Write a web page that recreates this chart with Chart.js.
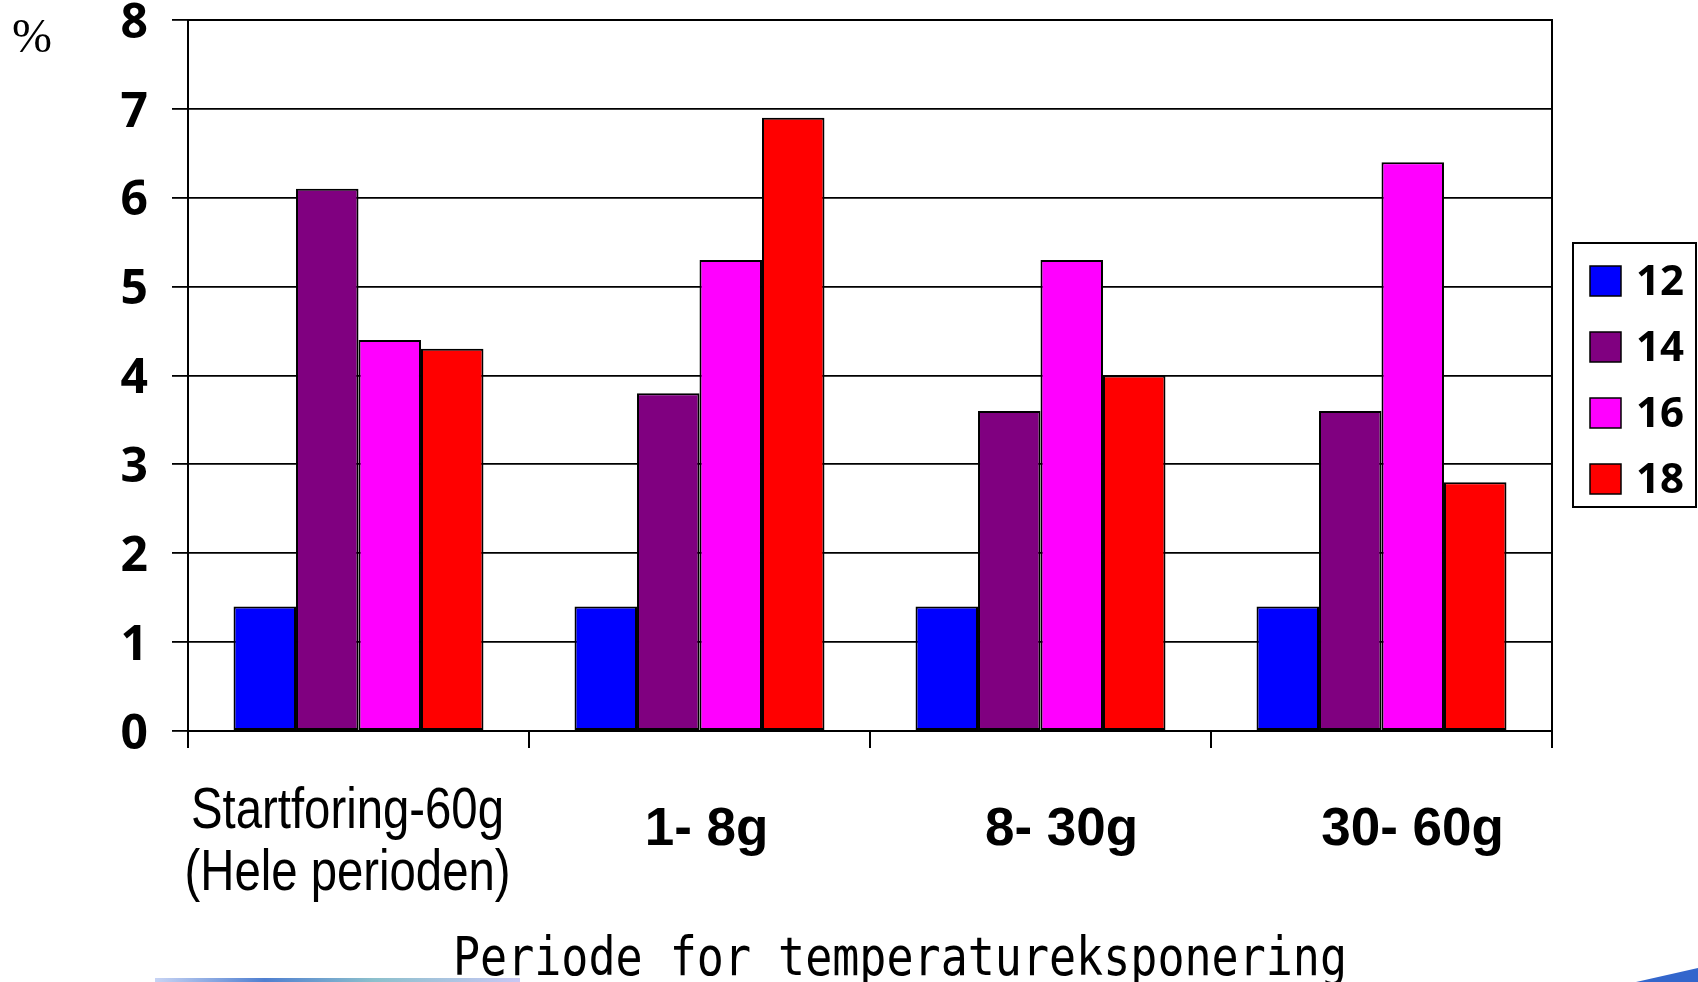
<!DOCTYPE html>
<html>
<head>
<meta charset="utf-8">
<script src="https://cdn.jsdelivr.net/npm/chart.js@4.4.1/dist/chart.umd.min.js"></script>
<style>
  html, body { margin: 0; padding: 0; background: #ffffff; }
  #wrap { width: 1698px; height: 982px; position: relative; }
</style>
</head>
<body>
<div id="wrap"><canvas id="c" width="1698" height="982"></canvas></div>
<script>
// ---- data ----
const categories = [["Startforing-60g", "(Hele perioden)"], "1- 8g", "8- 30g", "30- 60g"];
const seriesNames = ["12", "14", "16", "18"];
const series12 = [1.4, 1.4, 1.4, 1.4];
const series14 = [6.1, 3.8, 3.6, 3.6];
const series16 = [4.4, 5.3, 5.3, 6.4];
const series18 = [4.3, 6.9, 4.0, 2.8];
const yTicks = [0, 1, 2, 3, 4, 5, 6, 7, 8];
const xTitle = "Periode for temperatureksponering";
const yUnit = "%";
const colors = ["#0000FF", "#800080", "#FF00FF", "#FF0000"];

const seriesValues = [series12, series14, series16, series18];

const PLOT_LEFT = 188, PLOT_RIGHT = 1552, PLOT_TOP = 20, PLOT_BOTTOM = 731;
const W = 1698, H = 982;
const labelShift = [-11, 7, 21, 31];

const decorPlugin = {
  id: 'decor',
  afterDraw(chart) {
    const ctx = chart.ctx;
    const a = chart.chartArea;
    const xs = chart.scales.x;
    ctx.save();
    // plot frame (top & right)
    ctx.strokeStyle = '#000';
    ctx.lineWidth = 2;
    ctx.beginPath();
    ctx.moveTo(a.left, a.top);
    ctx.lineTo(a.right, a.top);
    ctx.lineTo(a.right, a.bottom);
    ctx.stroke();

    // % unit
    ctx.fillStyle = '#000';
    ctx.font = '48px "Liberation Serif", serif';
    ctx.textAlign = 'left';
    ctx.textBaseline = 'alphabetic';
    ctx.fillText(yUnit, 12, 52);

    // category labels
    ctx.textAlign = 'center';
    categories.forEach((lab, i) => {
      const cx = xs.getPixelForValue(i) + labelShift[i];
      if (Array.isArray(lab)) {
        ctx.font = '400 57px "Liberation Sans", Arial, sans-serif';
        lab.forEach((line, j) => {
          ctx.save();
          ctx.translate(cx, 828 + j * 62);
          ctx.scale(0.83, 1);
          ctx.fillText(line, 0, 0);
          ctx.restore();
        });
      } else {
        ctx.font = '700 53px "Liberation Sans", Arial, sans-serif';
        ctx.fillText(lab, cx, 845);
      }
    });

    // x-axis title
    ctx.save();
    ctx.font = '500 45px "DejaVu Sans Mono", "Liberation Mono", monospace';
    ctx.textAlign = 'center';
    ctx.translate(900, 975);
    ctx.scale(1, 1.2);
    ctx.fillText(xTitle, 0, 0);
    ctx.restore();

    // legend
    const lx0 = 1573, ly0 = 243, lx1 = 1697, ly1 = 507;
    ctx.lineWidth = 2;
    ctx.strokeStyle = '#000';
    ctx.strokeRect(lx0, ly0, lx1 - lx0 - 1, ly1 - ly0);
    ctx.font = '700 42px "Open Sans", "Noto Sans", sans-serif';
    ctx.textAlign = 'left';
    ctx.textBaseline = 'middle';
    chart.data.datasets.forEach((ds, i) => {
      const cy = 281 + i * 66;
      ctx.fillStyle = ds.backgroundColor;
      ctx.fillRect(1590, cy - 15, 31, 30);
      ctx.lineWidth = 1.5;
      ctx.strokeRect(1590, cy - 15, 31, 30);
      ctx.fillStyle = '#000';
      ctx.fillText(ds.label, 1636, cy + 2);
    });

    // slide decorations at bottom
    const g = ctx.createLinearGradient(155, 0, 520, 0);
    g.addColorStop(0, '#c8d4f4');
    g.addColorStop(0.3, '#4f7fd0');
    g.addColorStop(0.6, '#8cc0cc');
    g.addColorStop(1, '#c8c8f4');
    ctx.fillStyle = g;
    ctx.fillRect(155, 978, 365, 4);
    ctx.fillStyle = '#3366cc';
    ctx.beginPath();
    ctx.moveTo(1636, 982);
    ctx.lineTo(1698, 968);
    ctx.lineTo(1698, 982);
    ctx.closePath();
    ctx.fill();
    ctx.restore();
  }
};

new Chart(document.getElementById('c'), {
  type: 'bar',
  data: {
    labels: categories.map((c, i) => i),
    datasets: seriesNames.map((n, i) => ({
      label: n,
      data: seriesValues[i],
      backgroundColor: colors[i],
      borderColor: '#000',
      borderWidth: 2,
      borderSkipped: false,
      categoryPercentage: 0.733,
      barPercentage: 1.0
    }))
  },
  options: {
    responsive: false,
    animation: false,
    devicePixelRatio: 1,
    layout: { padding: { left: 0, right: W - PLOT_RIGHT, top: PLOT_TOP, bottom: 0 } },
    plugins: { legend: { display: false }, tooltip: { enabled: false } },
    scales: {
      x: {
        type: 'category',
        offset: true,
        grid: {
          offset: true,
          drawOnChartArea: false,
          drawTicks: true,
          tickLength: 17,
          color: '#000',
          lineWidth: 2
        },
        border: { display: true, color: '#000', width: 2 },
        ticks: { display: false },
        afterFit(s) { s.height = H - PLOT_BOTTOM; s.paddingLeft = 0; s.paddingRight = 0; }
      },
      y: {
        min: 0,
        max: 8,
        afterBuildTicks(s) { s.ticks = yTicks.map(v => ({ value: v })); },
        grid: {
          color: '#000',
          lineWidth: 1.8,
          tickLength: 16
        },
        border: { display: true, color: '#000', width: 2 },
        ticks: {
          color: '#000',
          padding: 24,
          labelOffset: 4,
          font: { family: '"Open Sans", "Noto Sans", sans-serif', size: 48, weight: '700', lineHeight: 0.83 }
        },
        afterFit(s) { s.width = PLOT_LEFT; s.paddingTop = 0; s.paddingBottom = 0; }
      }
    }
  },
  plugins: [decorPlugin]
});
</script>
</body>
</html>
